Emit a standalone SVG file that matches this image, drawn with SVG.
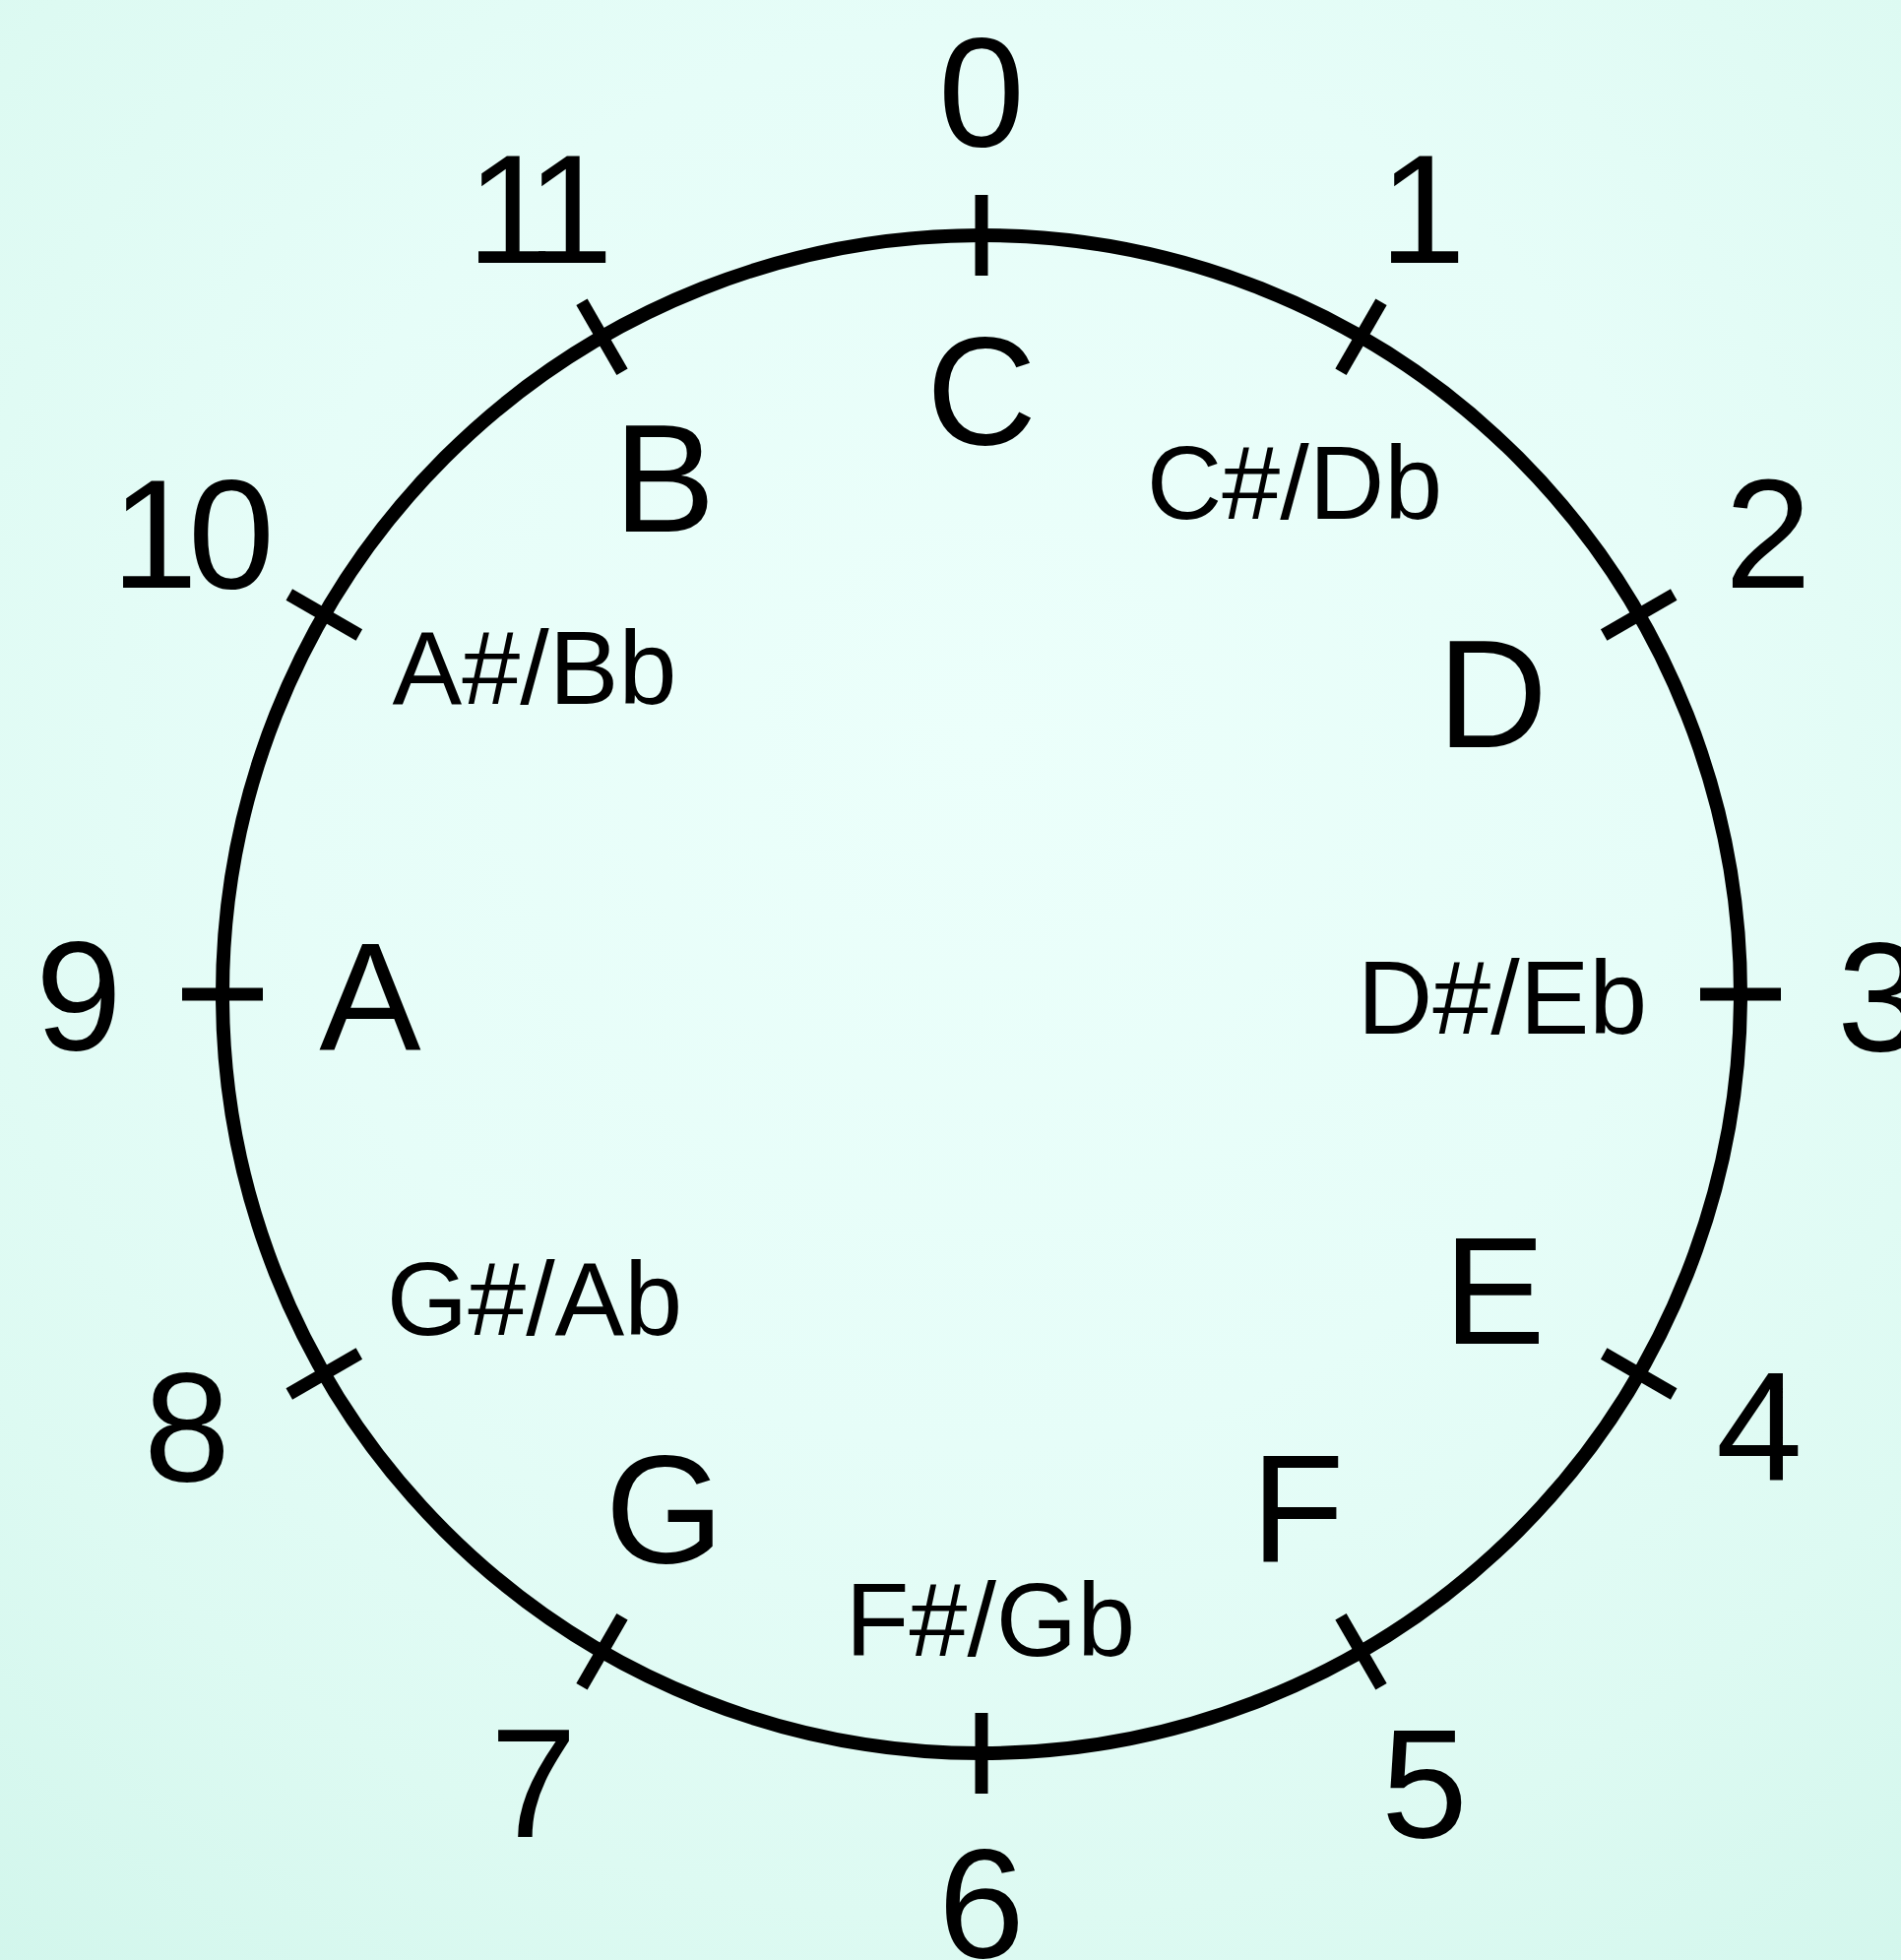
<svg xmlns="http://www.w3.org/2000/svg" width="1931" height="1991" viewBox="0 0 1931 1991">
<defs>
<radialGradient id="bg" gradientUnits="userSpaceOnUse" cx="997" cy="750" r="1600">
<stop offset="0" stop-color="#ECFFFB"/>
<stop offset="0.45" stop-color="#E6FDF8"/>
<stop offset="0.75" stop-color="#DDFAF2"/>
<stop offset="1" stop-color="#D2F6EC"/>
</radialGradient>
<style>
.ring{fill:none;stroke:#000;stroke-width:14}
.tick{stroke:#000;stroke-width:13;stroke-linecap:butt}
text{font-family:"Liberation Sans",Arial,sans-serif;fill:#000;text-anchor:middle}
.num{font-size:158px}
.big{font-size:155px}
.small{font-size:106px}
</style>
</defs>
<rect x="0" y="0" width="1931" height="1991" fill="url(#bg)"/>
<g id="connectors">
<circle class="ring" cx="997" cy="1010" r="771"/>
<g id="ticks">
<line class="tick" x1="997" y1="198" x2="997" y2="280" transform="rotate(0 997 1010)"/>
<line class="tick" x1="997" y1="198" x2="997" y2="280" transform="rotate(30 997 1010)"/>
<line class="tick" x1="997" y1="198" x2="997" y2="280" transform="rotate(60 997 1010)"/>
<line class="tick" x1="997" y1="198" x2="997" y2="280" transform="rotate(90 997 1010)"/>
<line class="tick" x1="997" y1="198" x2="997" y2="280" transform="rotate(120 997 1010)"/>
<line class="tick" x1="997" y1="198" x2="997" y2="280" transform="rotate(150 997 1010)"/>
<line class="tick" x1="997" y1="198" x2="997" y2="280" transform="rotate(180 997 1010)"/>
<line class="tick" x1="997" y1="198" x2="997" y2="280" transform="rotate(210 997 1010)"/>
<line class="tick" x1="997" y1="198" x2="997" y2="280" transform="rotate(240 997 1010)"/>
<line class="tick" x1="997" y1="198" x2="997" y2="280" transform="rotate(270 997 1010)"/>
<line class="tick" x1="997" y1="198" x2="997" y2="280" transform="rotate(300 997 1010)"/>
<line class="tick" x1="997" y1="198" x2="997" y2="280" transform="rotate(330 997 1010)"/>
</g>
</g>
<g id="n0"><text class="num" x="997" y="148">0</text><text class="big" x="997" y="451">C</text></g>
<g id="n1"><text class="num" x="1445" y="267">1</text><text class="small" x="1315" y="527">C#/Db</text></g>
<g id="n2"><text class="num" x="1796" y="597">2</text><text class="big" x="1516" y="759">D</text></g>
<g id="n3"><text class="num" x="1866" y="1067" style="text-anchor:start">3</text><text class="small" x="1526" y="1050">D#/Eb</text></g>
<g id="n4"><text class="num" x="1787" y="1504">4</text><text class="big" x="1518" y="1365">E</text></g>
<g id="n5"><text class="num" x="1447" y="1866">5</text><text class="big" x="1318" y="1587">F</text></g>
<g id="n6"><text class="num" x="997" y="1988">6</text><text class="small" x="1006" y="1682">F#/Gb</text></g>
<g id="n7"><text class="num" x="542" y="1866">7</text><text class="big" x="675" y="1587">G</text></g>
<g id="n8"><text class="num" x="190" y="1504">8</text><text class="small" x="543" y="1356">G#/Ab</text></g>
<g id="n9"><text class="num" x="80" y="1066">9</text><text class="big" x="376" y="1066">A</text></g>
<g id="n10"><text class="num" x="157 235" y="597">10</text><text class="small" x="543" y="715">A#/Bb</text></g>
<g id="n11"><text class="num" x="518 579" y="267">11</text><text class="big" x="675" y="540">B</text></g>
</svg>
